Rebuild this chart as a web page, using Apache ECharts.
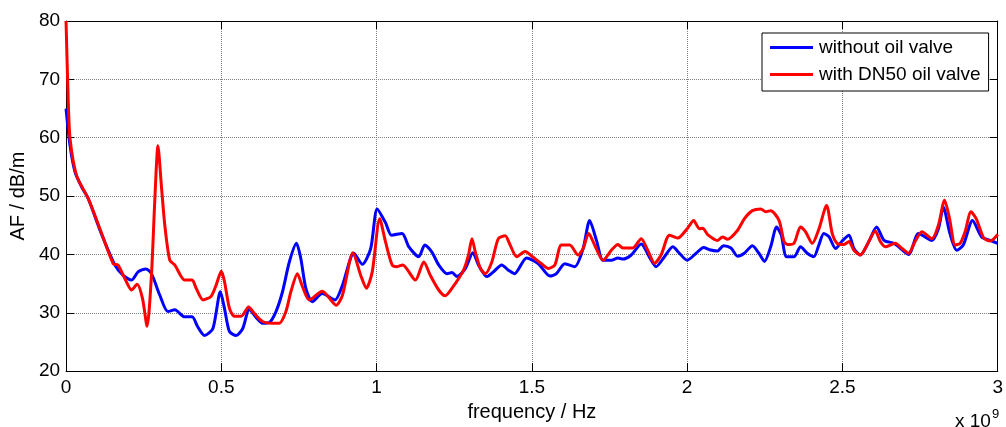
<!DOCTYPE html>
<html>
<head>
<meta charset="utf-8">
<title>AF</title>
<script src="https://cdn.jsdelivr.net/npm/echarts@6/dist/echarts.min.js"></script>
<style>
  html, body { margin: 0; padding: 0; background: #fff; }
  #main { width: 1006px; height: 427px; }
</style>
</head>
<body>
<div id="main"></div>
<script>
// frequency in units of 1e9 Hz
const blueFreq = [0, 0.013, 0.029, 0.05, 0.072, 0.109, 0.157, 0.184, 0.211, 0.232, 0.257, 0.275, 0.302, 0.328, 0.35, 0.382, 0.406, 0.424, 0.446, 0.473, 0.497, 0.51, 0.526, 0.548, 0.569, 0.59, 0.612, 0.633, 0.654, 0.676, 0.697, 0.719, 0.742, 0.756, 0.772, 0.793, 0.825, 0.866, 0.89, 0.927, 0.954, 0.981, 1.002, 1.029, 1.048, 1.082, 1.104, 1.136, 1.155, 1.178, 1.2, 1.227, 1.243, 1.259, 1.286, 1.31, 1.328, 1.355, 1.376, 1.403, 1.424, 1.444, 1.483, 1.521, 1.558, 1.579, 1.606, 1.638, 1.665, 1.686, 1.708, 1.729, 1.756, 1.777, 1.793, 1.82, 1.852, 1.879, 1.9, 1.927, 1.954, 1.975, 2.0, 2.029, 2.053, 2.072, 2.098, 2.117, 2.141, 2.162, 2.184, 2.21, 2.231, 2.249, 2.269, 2.288, 2.303, 2.32, 2.344, 2.365, 2.387, 2.408, 2.424, 2.44, 2.457, 2.478, 2.499, 2.521, 2.537, 2.558, 2.585, 2.61, 2.634, 2.666, 2.713, 2.745, 2.788, 2.809, 2.825, 2.846, 2.868, 2.889, 2.919, 2.948, 2.976, 3.0]
const blueAF = [65, 58.6, 54.1, 51.6, 49.5, 44.2, 38.2, 36.4, 35.6, 37.0, 37.5, 36.7, 33.0, 30.2, 30.5, 29.3, 29.3, 27.6, 26.1, 27.3, 33.6, 30.8, 26.8, 26.1, 27.3, 30.6, 29.2, 28.2, 28.3, 30.2, 33.6, 38.7, 41.9, 39.3, 34.2, 31.9, 33.3, 32.2, 34.7, 40.2, 38.3, 41.0, 47.8, 45.4, 43.3, 43.6, 41.3, 39.6, 41.6, 40.4, 38.2, 36.7, 36.9, 36.2, 37.6, 40.3, 38.2, 36.2, 37.0, 38.2, 37.3, 36.7, 39.4, 38.4, 36.3, 36.7, 38.4, 37.9, 41.0, 45.8, 42.4, 39.0, 39.0, 39.4, 39.2, 39.9, 41.8, 39.5, 37.9, 39.6, 41.3, 40.2, 39.0, 40.2, 41.2, 40.8, 40.6, 41.5, 41.1, 39.7, 40.2, 41.5, 40.2, 38.8, 41.3, 44.7, 43.3, 39.6, 39.6, 41.3, 40.2, 39.6, 41.6, 43.6, 43.0, 41.0, 42.3, 43.3, 41.0, 39.9, 42.2, 44.7, 42.4, 41.9, 40.0, 43.6, 42.4, 44.4, 48.1, 43.6, 40.7, 41.6, 45.8, 43.0, 42.4, 41.9]

const redFreq = [0, 0.007, 0.013, 0.034, 0.072, 0.109, 0.152, 0.167, 0.189, 0.211, 0.229, 0.246, 0.261, 0.275, 0.286, 0.296, 0.307, 0.318, 0.334, 0.35, 0.382, 0.406, 0.419, 0.441, 0.467, 0.483, 0.5, 0.51, 0.526, 0.542, 0.564, 0.588, 0.606, 0.633, 0.665, 0.687, 0.708, 0.724, 0.745, 0.761, 0.783, 0.825, 0.87, 0.89, 0.924, 0.949, 0.967, 0.986, 1.01, 1.029, 1.05, 1.066, 1.084, 1.125, 1.152, 1.173, 1.2, 1.221, 1.243, 1.28, 1.296, 1.307, 1.318, 1.334, 1.35, 1.371, 1.392, 1.414, 1.43, 1.451, 1.478, 1.502, 1.531, 1.553, 1.574, 1.595, 1.622, 1.649, 1.665, 1.683, 1.702, 1.729, 1.756, 1.777, 1.793, 1.825, 1.852, 1.874, 1.895, 1.916, 1.943, 1.97, 2.0, 2.021, 2.039, 2.05, 2.066, 2.098, 2.114, 2.13, 2.162, 2.184, 2.21, 2.237, 2.253, 2.269, 2.296, 2.312, 2.323, 2.344, 2.365, 2.381, 2.403, 2.424, 2.449, 2.467, 2.483, 2.505, 2.521, 2.537, 2.558, 2.579, 2.606, 2.622, 2.638, 2.67, 2.692, 2.713, 2.734, 2.756, 2.788, 2.809, 2.829, 2.845, 2.863, 2.879, 2.895, 2.914, 2.931, 2.955, 2.976, 3.0]
const redAF = [80, 66.5, 59.8, 53.5, 49.5, 44.4, 38.4, 38.2, 35.9, 33.9, 34.9, 32.5, 27.7, 36.4, 49.5, 58.6, 51.8, 45.0, 39.0, 38.2, 35.6, 35.6, 34.2, 32.2, 32.8, 34.7, 37.1, 35.4, 30.8, 29.4, 29.4, 31.0, 29.9, 28.5, 28.2, 28.2, 30.2, 33.6, 36.7, 34.5, 32.2, 33.7, 31.3, 33.0, 40.3, 36.4, 34.2, 37.0, 46.1, 42.1, 38.2, 37.9, 38.2, 35.6, 38.7, 36.4, 33.9, 32.9, 34.2, 37.3, 39.9, 42.7, 40.4, 37.6, 36.7, 38.7, 42.7, 43.2, 41.6, 39.6, 40.5, 39.6, 38.4, 37.6, 38.2, 41.6, 41.6, 39.9, 41.0, 43.6, 41.6, 39.0, 40.7, 41.7, 41.1, 41.1, 42.7, 40.6, 38.5, 39.9, 43.3, 42.8, 44.4, 45.8, 44.4, 44.5, 43.4, 42.4, 43.0, 42.6, 44.1, 46.1, 47.5, 47.8, 47.3, 47.5, 45.8, 42.2, 41.7, 41.9, 44.7, 43.9, 41.9, 44.3, 48.4, 43.6, 41.9, 41.7, 42.2, 40.7, 39.9, 41.6, 44.0, 42.2, 41.3, 41.9, 41.0, 40.2, 42.2, 43.9, 42.7, 45.0, 49.3, 46.1, 41.6, 41.9, 43.9, 47.3, 46.1, 42.8, 42.3, 43.4]

const seriesNames = ['without oil valve', 'with DN50 oil valve']
const xTicks = [0, 0.5, 1, 1.5, 2, 2.5, 3]
const yTicks = [20, 30, 40, 50, 60, 70, 80]

const font = 'Liberation Sans, Arial, Helvetica, sans-serif'
const pair = (xs, ys) => xs.map((x, i) => [x, ys[i]])

const mChart = echarts.init(document.getElementById('main'), null, { renderer: 'canvas' })

// 四周都画坐标轴, 刻度朝内 (matlab box on)
const baseX = {
  type: 'value',
  min: xTicks[0],
  max: xTicks[xTicks.length - 1],
  interval: 0.5,
  axisLine: { show: true, onZero: false, lineStyle: { color: '#000', width: 1 } },
  axisTick: { show: true, inside: true, length: 8, lineStyle: { color: '#000' } }
}
const baseY = {
  type: 'value',
  min: yTicks[0],
  max: yTicks[yTicks.length - 1],
  interval: 10,
  axisLine: { show: true, onZero: false, lineStyle: { color: '#000', width: 1 } },
  axisTick: { show: true, inside: true, length: 8, lineStyle: { color: '#000' } }
}

const option = {
  animation: false,
  backgroundColor: '#fff',
  grid: { left: 66, right: 4, top: 21, bottom: 53 },
  legend: {
    data: seriesNames,
    orient: 'vertical',
    left: 762,
    top: 33,
    icon: 'rect',
    itemWidth: 43,
    itemHeight: 3,
    itemGap: 8,
    padding: [5, 8, 7, 8],
    backgroundColor: '#fff',
    borderColor: '#000',
    borderWidth: 1,
    borderRadius: 0,
    selectedMode: false,
    textStyle: { fontFamily: font, fontSize: 19, color: '#000', padding: [0, 0, 0, 1] }
  },
  xAxis: [
    Object.assign({}, baseX, {
      position: 'bottom',
      name: 'frequency / Hz',
      nameLocation: 'middle',
      nameGap: 27,
      nameTextStyle: { fontFamily: font, fontSize: 20, color: '#000' },
      axisLabel: { show: true, margin: 7, fontFamily: font, fontSize: 19, color: '#000' },
      splitLine: { show: true, lineStyle: { color: '#808080', type: 'dotted', width: 1 } }
    }),
    Object.assign({}, baseX, {
      position: 'top',
      axisLabel: { show: false },
      splitLine: { show: false }
    })
  ],
  yAxis: [
    Object.assign({}, baseY, {
      position: 'left',
      name: 'AF / dB/m',
      nameLocation: 'middle',
      nameGap: 27,
      nameTextStyle: { fontFamily: font, fontSize: 20, color: '#000' },
      axisLabel: { show: true, margin: 6, fontFamily: font, fontSize: 19, color: '#000' },
      splitLine: { show: true, lineStyle: { color: '#808080', type: 'dotted', width: 1 } }
    }),
    Object.assign({}, baseY, {
      position: 'right',
      axisLabel: { show: false },
      splitLine: { show: false }
    })
  ],
  graphic: [
    {
      type: 'text',
      left: 955,
      top: 408,
      style: {
        text: 'x 10{s|9}',
        font: '19px ' + font,
        fill: '#000',
        rich: { s: { fontSize: 13, verticalAlign: 'top', padding: [0, 0, 14, 1], fontFamily: font } }
      }
    }
  ],
  series: [
    {
      name: seriesNames[0],
      type: 'line',
      data: pair(blueFreq, blueAF),
      color: '#0000ff',
      showSymbol: false,
      symbol: 'none',
      smooth: 0.25,
      lineStyle: { color: '#0000ff', width: 3 },
      z: 2
    },
    {
      name: seriesNames[1],
      type: 'line',
      data: pair(redFreq, redAF),
      color: '#ff0000',
      showSymbol: false,
      symbol: 'none',
      smooth: 0.25,
      lineStyle: { color: '#ff0000', width: 3 },
      z: 3
    }
  ]
}
mChart.setOption(option)
</script>
</body>
</html>
